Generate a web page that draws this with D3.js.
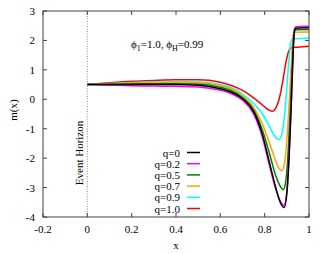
<!DOCTYPE html>
<html><head><meta charset="utf-8">
<script src="https://cdn.jsdelivr.net/npm/d3@7"></script>
<style>body{margin:0;background:#fff}svg{display:block}text{font-family:"Liberation Serif","DejaVu Serif",serif;fill:#000}</style>
</head><body><svg id="c" width="330" height="254"></svg>
<script>
const xTicks = [-0.2, 0, 0.2, 0.4, 0.6, 0.8, 1];
const xTickLabels = ["-0.2", "0", "0.2", "0.4", "0.6", "0.8", "1"];
const yTicks = [-4, -3, -2, -1, 0, 1, 2, 3];
const yTickLabels = ["-4", "-3", "-2", "-1", "0", "1", "2", "3"];
const seriesNames = ["q=0", "q=0.2", "q=0.5", "q=0.7", "q=0.9", "q=1.0"];
const seriesColors = ["#000000", "#ff00ff", "#008000", "#ffa500", "#00ffff", "#ff0000"];
const q0 = [[0,0.5],[0.1,0.5],[0.2,0.5],[0.3,0.5],[0.4,0.5],[0.5,0.48],[0.6,0.36],[0.65,0.24],[0.7,0.02],[0.75,-0.42],[0.79,-1.2],[0.82,-2.1],[0.85,-3.0],[0.87,-3.5],[0.888,-3.68],[0.9,-3.2],[0.91,-2.0],[0.92,-0.2],[0.928,1.5],[0.935,2.35],[0.945,2.42],[1,2.43]];
const q02 = [[0,0.5],[0.1,0.48],[0.2,0.46],[0.3,0.45],[0.4,0.44],[0.5,0.42],[0.6,0.31],[0.65,0.19],[0.7,-0.03],[0.75,-0.5],[0.79,-1.3],[0.82,-2.2],[0.85,-3.05],[0.87,-3.45],[0.887,-3.6],[0.9,-3.15],[0.91,-1.9],[0.92,-0.1],[0.928,1.6],[0.935,2.42],[0.945,2.47],[1,2.48]];
const q05 = [[0,0.5],[0.1,0.51],[0.2,0.52],[0.3,0.53],[0.4,0.53],[0.5,0.52],[0.6,0.41],[0.65,0.29],[0.7,0.06],[0.75,-0.36],[0.79,-1.05],[0.82,-1.8],[0.85,-2.6],[0.87,-2.95],[0.884,-3.07],[0.895,-2.8],[0.905,-1.9],[0.915,-0.4],[0.925,1.2],[0.932,2.25],[0.94,2.36],[1,2.37]];
const q07 = [[0,0.5],[0.1,0.53],[0.2,0.55],[0.3,0.57],[0.4,0.58],[0.5,0.57],[0.6,0.47],[0.65,0.35],[0.7,0.12],[0.75,-0.28],[0.79,-0.85],[0.82,-1.45],[0.85,-2.1],[0.865,-2.35],[0.877,-2.43],[0.89,-2.15],[0.9,-1.4],[0.91,-0.2],[0.92,1.2],[0.928,2.15],[0.935,2.28],[1,2.29]];
const q09 = [[0,0.5],[0.1,0.54],[0.2,0.57],[0.3,0.59],[0.4,0.6],[0.5,0.59],[0.6,0.5],[0.65,0.39],[0.7,0.18],[0.75,-0.14],[0.79,-0.5],[0.82,-0.9],[0.845,-1.25],[0.864,-1.37],[0.877,-1.2],[0.89,-0.5],[0.9,0.4],[0.91,1.4],[0.918,1.95],[0.925,2.05],[1,2.07]];
const q10 = [[0,0.5],[0.1,0.56],[0.2,0.61],[0.3,0.64],[0.4,0.66],[0.5,0.66],[0.6,0.58],[0.65,0.47],[0.7,0.3],[0.75,0.05],[0.78,-0.13],[0.8,-0.26],[0.82,-0.37],[0.836,-0.41],[0.85,-0.3],[0.865,0.0],[0.88,0.55],[0.89,1.0],[0.9,1.4],[0.91,1.66],[0.92,1.74],[0.95,1.77],[1,1.8]];
const seriesData = [q0, q02, q05, q07, q09, q10];

const svg = d3.select("#c");
const L = 43, R = 309, T = 11, B = 217;
const x = d3.scaleLinear().domain([-0.2, 1]).range([L, R]);
const y = d3.scaleLinear().domain([-4, 3]).range([B, T]);
const axisCol = "#404040";

// dotted event horizon
svg.append("line").attr("x1", x(0)).attr("x2", x(0)).attr("y1", T).attr("y2", B)
  .attr("stroke", "#888").attr("stroke-width", 1).attr("stroke-dasharray", "1,1.5");
svg.append("text").attr("transform", `translate(${x(0)-4},${153}) rotate(-90)`)
  .attr("text-anchor", "middle").attr("font-size", 11).text("Event Horizon");

// ticks
const tl = 4;
xTicks.forEach(t => {
  svg.append("line").attr("x1", x(t)).attr("x2", x(t)).attr("y1", B).attr("y2", B - tl).attr("stroke", axisCol);
  svg.append("line").attr("x1", x(t)).attr("x2", x(t)).attr("y1", T).attr("y2", T + tl).attr("stroke", axisCol);
});
yTicks.forEach(t => {
  svg.append("line").attr("x1", L).attr("x2", L + tl).attr("y1", y(t)).attr("y2", y(t)).attr("stroke", axisCol);
  svg.append("line").attr("x1", R).attr("x2", R - tl).attr("y1", y(t)).attr("y2", y(t)).attr("stroke", axisCol);
});
svg.selectAll(".xl").data(xTicks).enter().append("text")
  .attr("x", d => x(d)).attr("y", 233).attr("text-anchor", "middle").attr("font-size", 11)
  .text((d, i) => xTickLabels[i]);
svg.selectAll(".yl").data(yTicks).enter().append("text")
  .attr("x", 35).attr("y", d => y(d) + 4).attr("text-anchor", "end").attr("font-size", 11)
  .text((d, i) => yTickLabels[i]);

svg.append("text").attr("x", x(0.4)).attr("y", 249).attr("text-anchor", "middle").attr("font-size", 11).text("x");
svg.append("text").attr("transform", "translate(17,110) rotate(-90)").attr("text-anchor", "middle").attr("font-size", 11).text("m(x)");

// curves
const line = d3.line().x(d => x(d[0])).y(d => y(d[1])).curve(d3.curveMonotoneX);
seriesData.slice().reverse().forEach((s, i) => {
  const k = seriesData.length - 1 - i;
  svg.append("path").attr("d", line(s)).attr("fill", "none")
    .attr("stroke", seriesColors[k]).attr("stroke-width", 1.5);
});

// frame
svg.append("rect").attr("x", L).attr("y", T).attr("width", R - L).attr("height", B - T)
  .attr("fill", "none").attr("stroke", axisCol).attr("stroke-width", 1);

// annotation
const ann = svg.append("text").attr("x", 131).attr("y", 48).attr("font-size", 11);
ann.append("tspan").text("ϕ");
ann.append("tspan").attr("font-size", 8).attr("dy", 3).text("1");
ann.append("tspan").attr("dy", -3).text("=1.0, ϕ");
ann.append("tspan").attr("font-size", 8).attr("dy", 3).text("H");
ann.append("tspan").attr("dy", -3).text("=0.99");

// legend
seriesNames.forEach((n, i) => {
  const yy = 152.5 + i * 11.2;
  svg.append("text").attr("x", 180).attr("y", yy + 4).attr("text-anchor", "end").attr("font-size", 11).text(n);
  svg.append("line").attr("x1", 187).attr("x2", 200).attr("y1", yy).attr("y2", yy)
    .attr("stroke", seriesColors[i]).attr("stroke-width", 1.5);
});
</script></body></html>
